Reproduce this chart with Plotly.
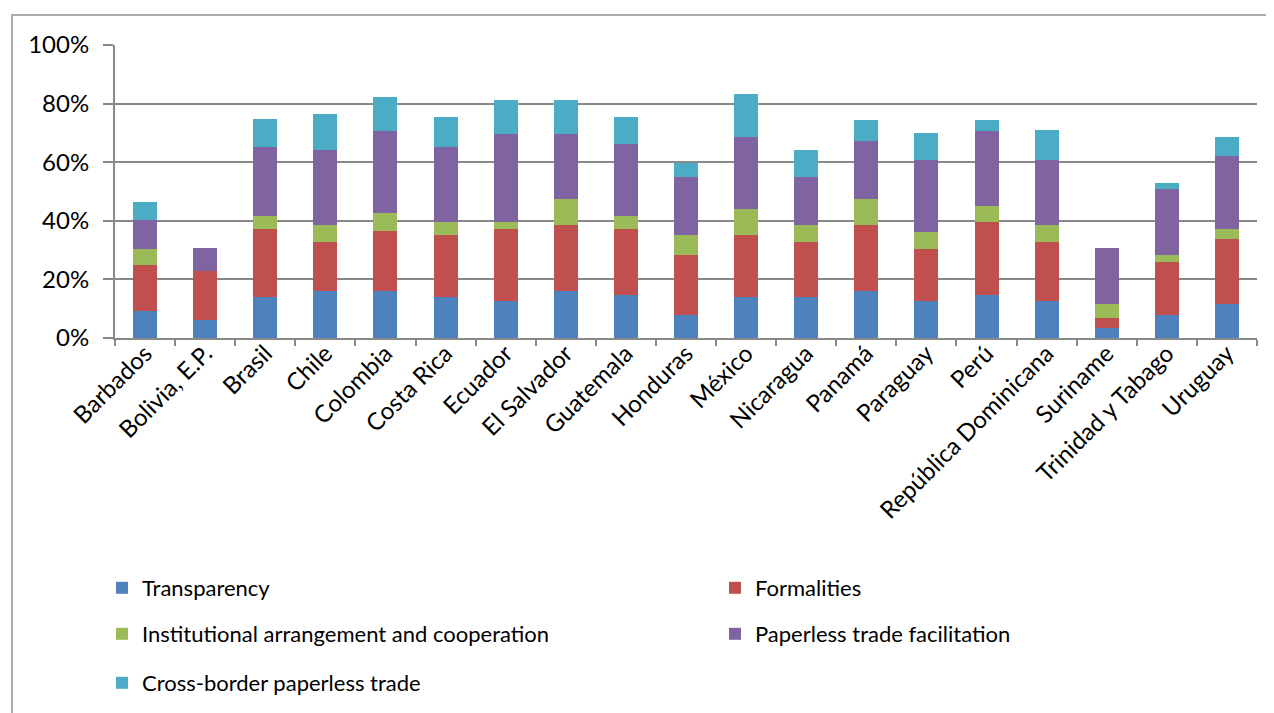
import plotly.graph_objects as go

countries = ["Barbados", "Bolivia, E.P.", "Brasil", "Chile", "Colombia", "Costa Rica",
             "Ecuador", "El Salvador", "Guatemala", "Honduras", "México", "Nicaragua",
             "Panamá", "Paraguay", "Perú", "República Dominicana", "Suriname",
             "Trinidad y Tabago", "Uruguay"]

transparency = [9.2, 6.0, 13.9, 16.0, 16.0, 13.9, 12.6, 16.0, 14.8, 8.0, 13.9, 13.9,
                16.0, 12.6, 14.8, 12.6, 3.4, 8.0, 11.5]
formalities = [15.8, 16.7, 23.2, 16.6, 20.4, 21.2, 24.5, 22.4, 22.3, 20.4, 21.2, 18.7,
               22.4, 17.9, 24.8, 20.0, 3.5, 17.9, 22.4]
institutional = [5.5, 0.0, 4.7, 5.8, 6.4, 4.5, 2.5, 8.9, 4.7, 6.7, 9.0, 5.8,
                 8.9, 5.7, 5.6, 5.8, 4.6, 2.5, 3.2]
paperless = [9.9, 8.0, 23.5, 25.7, 28.0, 25.7, 29.9, 22.2, 24.4, 19.9, 24.6, 16.6,
             20.1, 24.5, 25.6, 22.3, 19.2, 22.3, 24.9]
crossborder = [6.0, 0.0, 9.3, 12.5, 11.4, 10.1, 11.6, 11.6, 9.2, 4.7, 14.7, 9.3,
               7.1, 9.2, 3.7, 10.3, 0.0, 2.3, 6.7]

series_names = ["Transparency", "Formalities", "Institutional arrangement and cooperation",
                "Paperless trade facilitation", "Cross-border paperless trade"]
series_values = [transparency, formalities, institutional, paperless, crossborder]
series_colors = ["#4F81BD", "#C0504D", "#9BBB59", "#8064A2", "#4BACC6"]

FONT = "Lato, 'Open Sans', sans-serif"

# page offset (browser body margin)
OFF = 8
W, H = 1274 - OFF, 713 - OFF
L, R, T, B = 115 - OFF, 1257 - OFF, 45 - OFF, 338 - OFF

def px_x(p):
    return (p - OFF - L) / (R - L)

def px_y(p):
    return (B - (p - OFF)) / (B - T)

# legend item positions on the page (left x, center y)
legend_pos = [(102, 588), (715, 588), (102, 634), (715, 634), (102, 683)]
legend_keys = ["legend", "legend2", "legend3", "legend4", "legend5"]

fig = go.Figure()
for name, vals, color, lg in zip(series_names, series_values, series_colors, legend_keys):
    fig.add_trace(go.Bar(x=countries, y=vals, name=name, marker_color=color,
                         marker_line_width=0, legend=lg, showlegend=True))

legend_common = dict(orientation="h", xref="container", yref="container",
                     xanchor="left", yanchor="middle",
                     font=dict(family=FONT, size=22, color="#000000"),
                     bgcolor="rgba(0,0,0,0)", itemwidth=30, visible=True)

legends = {}
for key, (lx, ly) in zip(legend_keys, legend_pos):
    legends[key] = dict(x=(lx - OFF) / W, y=1 - (ly - OFF) / H, **legend_common)

fig.update_layout(
    width=W, height=H,
    margin=dict(l=L, r=W - R, t=T, b=H - B),
    paper_bgcolor="white", plot_bgcolor="white",
    barmode="stack", bargap=0.6, showlegend=True,
    font=dict(family=FONT, size=22, color="#000000"),
    shapes=[dict(type="rect", xref="paper", yref="paper",
                 x0=px_x(12), x1=px_x(1300), y0=px_y(740), y1=px_y(15),
                 line=dict(color="#ababab", width=2), fillcolor="rgba(0,0,0,0)",
                 layer="below")],
    **legends,
)

fig.update_yaxes(range=[0, 100], dtick=20, ticksuffix="%",
                 showgrid=True, gridcolor="#898989", gridwidth=2,
                 showline=True, linecolor="#898989", linewidth=2,
                 ticks="outside", ticklen=10, tickcolor="#898989", tickwidth=2,
                 ticklabelstandoff=9, zeroline=False,
                 tickfont=dict(family=FONT, size=24, color="#000000"))
fig.update_xaxes(tickangle=-45, showline=True, linecolor="#898989", linewidth=2,
                 ticks="outside", ticklen=6, tickcolor="#898989", tickwidth=2,
                 tickson="boundaries", showgrid=False, ticklabelstandoff=-10,
                 tickfont=dict(family=FONT, size=24, color="#000000"))

fig.write_html("out.html")
